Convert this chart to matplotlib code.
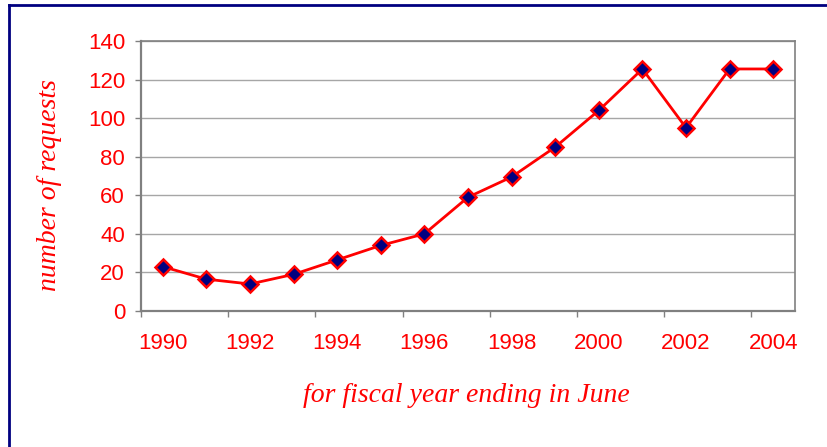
import numpy as np
import matplotlib.pyplot as plt
from matplotlib.lines import Line2D

# -------------------------------------------------
# Data
# -------------------------------------------------
years = [1990, 1991, 1992, 1993, 1994, 1995, 1996, 1997,
         1998, 1999, 2000, 2001, 2002, 2003, 2004]
requests = [23, 16.5, 14, 19, 26.5, 34, 40, 59,
            69.5, 85, 104, 125.5, 95, 125.5, 125.5]
y_ticks = [0, 20, 40, 60, 80, 100, 120, 140]

red = "#FF0000"
navy = "#000080"
grid_grey = "#A6A6A6"
axis_grey = "#808080"

fig = plt.figure(figsize=(8.28, 4.47), dpi=100)
ax = fig.add_axes([141 / 828, 1 - 311 / 447, 654 / 828, 270 / 447])

# category style x axis: points at 0..14
x = np.arange(len(years))
ax.plot(x, requests, color=red, linewidth=2, marker="D", markersize=8.5,
        markerfacecolor=navy, markeredgecolor=red, markeredgewidth=1.8,
        zorder=3, clip_on=False)

ax.set_xlim(-0.5, len(years) - 0.5)
ax.set_ylim(0, 140)

# labels on every second year, tick marks on category boundaries
ax.set_xticks(x[::2])
ax.set_xticklabels([str(y) for y in years[::2]])
ax.set_xticks(np.arange(-0.5, len(years) - 1, 2), minor=True)
ax.tick_params(axis="x", which="major", length=0, pad=16,
               labelsize=16, labelcolor=red)
ax.tick_params(axis="x", which="minor", length=4.5, width=1,
               color=axis_grey, direction="out")

ax.set_yticks(y_ticks)
ax.tick_params(axis="y", length=4.5, width=1, color=axis_grey,
               pad=7, labelsize=16, labelcolor=red)
for lab in ax.get_xticklabels() + ax.get_yticklabels():
    lab.set_fontfamily("Liberation Sans")

ax.grid(axis="y", color=grid_grey, linewidth=1)
ax.set_axisbelow(True)

for side in ["left", "bottom"]:
    ax.spines[side].set_color(axis_grey)
    ax.spines[side].set_linewidth(1.6)
for side in ["top", "right"]:
    ax.spines[side].set_color(axis_grey)
    ax.spines[side].set_linewidth(1.2)

# axis titles (italic serif)
fig.text(466 / 828, 1 - 396 / 447, "for fiscal year ending in June",
         family="Liberation Serif", style="italic", fontsize=20,
         color=red, ha="center", va="center")
fig.text(50 / 828, 1 - 185 / 447, "number of requests",
         family="Liberation Serif", style="italic", fontsize=20,
         color=red, ha="center", va="center", rotation=90)

# navy frame around the figure (top and left edges visible)
fig.add_artist(Line2D([9 / 828, 1], [1 - 5 / 447, 1 - 5 / 447],
                      color=navy, linewidth=2, transform=fig.transFigure))
fig.add_artist(Line2D([9 / 828, 9 / 828], [0, 1 - 5 / 447],
                      color=navy, linewidth=2, transform=fig.transFigure))

fig.savefig("out.png", dpi=100)
